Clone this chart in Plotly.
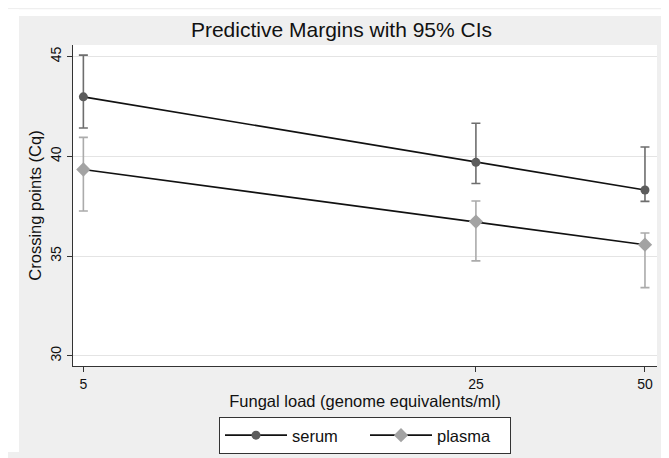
import plotly.graph_objects as go

# Data
fungal_load = [5, 25, 50]
serum_margin = [42.98, 39.70, 38.31]
serum_upper = [45.07, 41.66, 40.47]
serum_lower = [41.42, 38.64, 37.74]
plasma_margin = [39.34, 36.73, 35.57]
plasma_upper = [40.95, 37.76, 36.16]
plasma_lower = [37.26, 34.76, 33.42]
y_ticks = [30, 35, 40, 45]
x_ticks = [5, 25, 50]

FONT = "Liberation Sans, Arial, Helvetica, sans-serif"
GRAY_BG = "#efefef"

def errs(mid, up, lo):
    return [u - m for u, m in zip(up, mid)], [m - l for m, l in zip(mid, lo)]

s_plus, s_minus = errs(serum_margin, serum_upper, serum_lower)
p_plus, p_minus = errs(plasma_margin, plasma_upper, plasma_lower)

fig = go.Figure()
fig.add_trace(go.Scatter(
    x=fungal_load, y=serum_margin, name="serum", mode="lines+markers",
    line=dict(color="#111111", width=1.6),
    marker=dict(symbol="circle", size=9, color="#5c5c5c"),
    error_y=dict(type="data", array=s_plus, arrayminus=s_minus,
                 color="#6e6e6e", thickness=1.6, width=4.5),
))
fig.add_trace(go.Scatter(
    x=fungal_load, y=plasma_margin, name="plasma", mode="lines+markers",
    line=dict(color="#111111", width=1.6),
    marker=dict(symbol="diamond", size=11, color="#a3a3a3"),
    error_y=dict(type="data", array=p_plus, arrayminus=p_minus,
                 color="#ababab", thickness=1.6, width=4.5),
))

fig.update_layout(
    width=669, height=458,
    margin=dict(l=65, r=20, t=37, b=89, pad=0),
    paper_bgcolor=GRAY_BG, plot_bgcolor="white",
    font=dict(family=FONT, size=14, color="#111111"),
    title=dict(text="Predictive Margins with 95% CIs", x=333.5 / 669, xanchor="center",
               y=1 - 21.7 / 458, yanchor="middle",
               font=dict(family=FONT, size=21, color="#111111")),
    xaxis=dict(type="log", range=[0.6805, 1.7204],
               tickvals=x_ticks, ticktext=[str(v) for v in x_ticks],
               ticks="outside", ticklen=5, tickcolor="#333333", tickwidth=1,
               showline=True, linecolor="#333333", linewidth=1.2,
               showgrid=False, zeroline=False,
               title=dict(text="Fungal load (genome equivalents/ml)",
                          font=dict(family=FONT, size=16.5), standoff=1),
               tickfont=dict(size=14)),
    yaxis=dict(range=[29.49, 45.58], tickvals=y_ticks,
               ticks="outside", ticklen=5, tickcolor="#333333", tickwidth=1,
               tickangle=-90,
               showline=True, linecolor="#333333", linewidth=1.2,
               showgrid=True, gridcolor="#e4e4e4", gridwidth=1, zeroline=False,
               title=dict(text="Crossing points (Cq)",
                          font=dict(family=FONT, size=16.5), standoff=2),
               tickfont=dict(size=14)),
    legend=dict(orientation="h", x=0.5, xanchor="center", y=-0.1586, yanchor="top",
                bgcolor="white", bordercolor="#333333", borderwidth=1,
                font=dict(family=FONT, size=16.5), itemwidth=62,
                entrywidth=68, entrywidthmode="pixels",
                tracegroupgap=0),
    showlegend=True,
    shapes=[
        dict(type="rect", xref="paper", yref="paper",
             x0=-65 / 584, x1=-54 / 584, y0=-89 / 332, y1=(332 + 37) / 332,
             fillcolor="white", line=dict(width=0), layer="below"),
        dict(type="rect", xref="paper", yref="paper",
             x0=-65 / 584, x1=(584 + 20) / 584, y0=(332 + 30) / 332, y1=(332 + 37) / 332,
             fillcolor="white", line=dict(width=0), layer="below"),
    ],
)

fig.write_html("out.html")
